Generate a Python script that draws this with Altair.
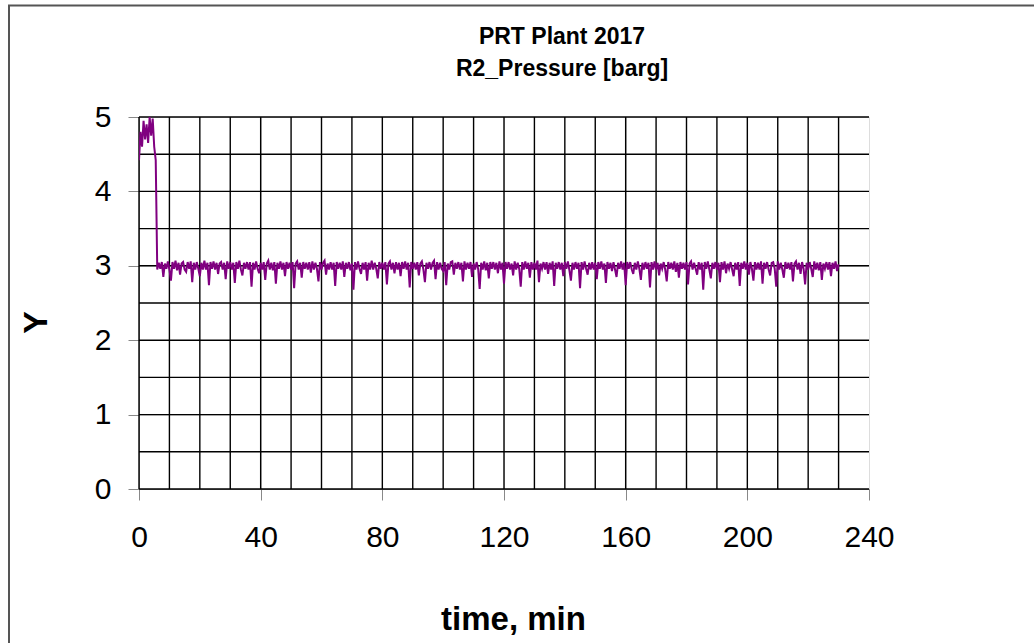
import altair as alt
import pandas as pd

# --- data ------------------------------------------------------------------
step_min = 0.5  # sampling interval of the logged series (minutes)

start_values = [4.42, 4.80, 4.60, 4.95, 4.70, 4.90, 4.65, 5.00, 4.75, 4.98, 4.60, 4.42]

steady_values = [
    2.95, 3.04, 2.96, 3.05, 2.85, 3.03, 2.96, 3.06, 2.95, 2.80, 3.05, 2.96, 3.07, 2.94, 3.04, 2.88, 3.03, 3.05, 2.95, 2.92,
    3.05, 2.96, 3.06, 2.78, 3.04, 2.95, 3.05, 2.96, 2.86, 3.04, 2.95, 3.07, 2.95, 3.04, 2.74, 3.05, 2.96, 3.06, 2.95, 3.04,
    2.89, 3.03, 3.05, 2.95, 3.04, 2.82, 3.06, 2.96, 3.05, 2.95, 3.04, 2.77, 3.05, 2.96, 3.07, 2.95, 2.87, 3.04, 2.96, 3.05,
    2.95, 3.05, 2.72, 3.04, 2.95, 3.06, 2.96, 2.90, 3.04, 2.95, 3.05, 2.81, 3.03, 3.07, 2.95, 3.04, 2.94, 3.05, 2.76, 3.04,
    2.96, 3.06, 2.95, 3.04, 2.86, 3.05, 2.96, 3.04, 2.95, 3.05, 2.70, 3.03, 3.06, 2.95, 3.04, 2.84, 3.05, 2.96, 3.04, 2.95,
    3.05, 2.91, 3.06, 2.95, 3.04, 2.96, 2.79, 3.05, 2.95, 3.04, 3.07, 2.88, 3.03, 2.95, 3.05, 2.95, 3.04, 2.73, 3.05, 2.96,
    3.04, 2.95, 3.06, 2.85, 3.04, 2.96, 3.05, 2.94, 3.03, 2.68, 3.05, 2.95, 3.06, 2.96, 2.89, 3.04, 2.95, 3.05, 2.80, 3.04,
    2.95, 3.07, 2.95, 3.04, 2.96, 2.83, 3.05, 2.96, 3.04, 2.95, 3.05, 2.75, 3.03, 3.06, 2.95, 3.04, 2.90, 3.05, 2.95, 3.04,
    2.86, 3.05, 2.96, 3.06, 2.95, 3.04, 2.71, 3.05, 2.96, 3.04, 2.95, 3.05, 2.87, 3.03, 3.06, 2.95, 2.78, 3.04, 2.96, 3.05,
    2.95, 3.04, 3.07, 2.82, 3.05, 2.95, 3.04, 2.96, 2.93, 3.05, 2.74, 3.03, 2.95, 3.05, 3.06, 2.88, 3.04, 2.96, 3.05, 2.95,
    3.04, 2.79, 3.06, 2.95, 3.04, 2.96, 3.05, 2.85, 3.03, 2.95, 3.05, 2.96, 2.69, 3.04, 2.95, 3.06, 2.94, 3.04, 2.83, 3.05,
    2.96, 3.05, 2.95, 3.04, 2.90, 3.06, 2.95, 3.04, 2.76, 3.05, 2.96, 3.05, 2.95, 3.03, 2.87, 3.06, 2.95, 3.04, 2.96, 2.72,
    3.05, 2.95, 3.06, 2.96, 3.04, 2.84, 3.05, 2.95, 3.04, 2.95, 3.07, 2.78, 3.03, 2.96, 3.05, 2.95, 3.05, 2.89, 3.04, 2.95,
    3.06, 2.73, 3.04, 2.96, 3.05, 2.95, 3.04, 2.86, 3.05, 2.96, 3.06, 2.94, 2.80, 3.04, 2.95, 3.05, 2.96, 3.04, 2.70, 3.05,
    2.95, 3.06, 2.96, 2.88, 3.04, 2.95, 3.05, 2.95, 3.04, 2.82, 3.05, 2.96, 3.06, 2.95, 3.03, 2.77, 3.05, 2.96, 3.04, 2.93,
    3.05, 2.95, 2.85, 3.04, 2.96, 3.06, 2.95, 3.04, 2.74, 3.05, 2.96, 3.05, 2.95, 2.89, 3.04, 2.95, 3.06, 2.96, 2.81, 3.04,
    2.95, 3.05, 2.96, 3.04, 2.71, 3.05, 2.95, 3.06, 2.95, 3.04, 2.87, 3.03, 2.96, 3.05, 2.95, 2.79, 3.05, 2.96, 3.04, 2.95,
    3.06, 2.92, 3.04, 2.84, 3.05, 2.96, 3.04, 2.95, 3.05, 2.75, 3.03, 3.06, 2.95, 3.04, 2.96, 2.88, 3.05, 2.95, 3.04, 2.68,
    3.05, 2.96, 3.06, 2.95, 2.83, 3.04, 2.96, 3.05, 2.95, 3.04, 2.78, 3.05, 2.95, 3.06, 2.90, 3.03, 2.96, 3.05, 2.95, 2.86,
    3.04, 2.95, 3.05, 2.73, 3.04, 2.96, 3.06, 2.95, 3.04, 2.88, 3.05, 2.96, 2.80, 3.05, 2.95, 3.04, 2.95, 3.06, 2.76, 3.04,
    2.96, 3.05, 2.95, 2.87, 3.04, 3.05, 2.96, 2.72, 3.06, 2.95, 3.04, 2.95, 2.84, 3.05, 2.96, 3.04, 2.95, 3.05, 2.79, 3.03,
    3.06, 2.95, 3.04, 2.89, 3.05, 2.96, 2.75, 3.04, 2.95, 3.05, 2.96, 2.85, 3.06, 2.95, 3.04, 2.94, 3.05, 2.81, 3.03, 2.96,
    3.05, 2.95, 3.05, 2.86, 3.04, 2.96, 3.06, 2.93, 3.02,
]

pressure = start_values + steady_values
time_min = [i * step_min for i in range(len(pressure))]

x_ticks = [0, 40, 80, 120, 160, 200, 240]
y_ticks = [0, 1, 2, 3, 4, 5]
x_grid = list(range(0, 240, 10))
y_grid = [0, 0.5, 1, 1.5, 2, 2.5, 3, 3.5, 4, 4.5, 5]

df = pd.DataFrame({"t": time_min, "p": pressure})
gx = pd.DataFrame({"t": x_grid})
gy = pd.DataFrame({"p": y_grid})
one = pd.DataFrame({"k": [0]})

W, H = 730, 372
FONT = "Liberation Sans"

xscale = alt.Scale(domain=[0, 240], nice=False, zero=False)
yscale = alt.Scale(domain=[0, 5], nice=False, zero=False)

x_axis = alt.Axis(
    values=x_ticks,
    title="time, min",
    titleFontSize=33,
    titleFont=FONT,
    titleFontWeight="bold",
    titleColor="black",
    titleX=374,
    titleY=140,
    titleBaseline="alphabetic",
    titleAnchor="start",
    titleAlign="center",
    labelFontSize=30,
    labelPadding=22,
    tickSize=11,
    labelFlush=False,
    labelOverlap=False,
)
y_axis = alt.Axis(
    values=y_ticks,
    title="Y",
    titleFontSize=34,
    titleFont=FONT,
    titleFontWeight="bold",
    titleColor="black",
    titleX=-103,
    titleY=205,
    titleAngle=270,
    titleAlign="center",
    titleBaseline="middle",
    labelFontSize=30,
    labelPadding=17,
    tickSize=11,
    labelFlush=False,
    labelOverlap=False,
)

vgrid = alt.Chart(gx).mark_rule(color="black", strokeWidth=1.4).encode(
    x=alt.X("t:Q", scale=xscale, axis=x_axis)
)
hgrid = alt.Chart(gy).mark_rule(color="black", strokeWidth=1.4).encode(
    y=alt.Y("p:Q", scale=yscale, axis=y_axis)
)

line = alt.Chart(df).mark_line(color="#800080", strokeWidth=2.0, clip=True).encode(
    x=alt.X("t:Q", scale=xscale, axis=x_axis),
    y=alt.Y("p:Q", scale=yscale, axis=y_axis),
)

frame_v = alt.Chart(one).mark_rule(color="#555555", strokeWidth=2).encode(
    x=alt.value(-130), y=alt.value(-111.5), y2=alt.value(H + 200)
)
frame_h = alt.Chart(one).mark_rule(color="#555555", strokeWidth=2).encode(
    x=alt.value(-131), x2=alt.value(W + 200), y=alt.value(-111.5)
)

chart = (
    alt.layer(vgrid, hgrid, line, frame_v, frame_h)
    .properties(
        width=W,
        height=H,
        autosize=alt.AutoSizeParams(type="none"),
        padding={"left": 139, "top": 117, "right": 165, "bottom": 154},
        title=alt.TitleParams(
            text=["PRT Plant 2017", "R2_Pressure [barg]"],
            font=FONT,
            fontSize=23,
            fontWeight="bold",
            color="black",
            anchor="middle",
            dx=58,
            dy=76,
            offset=0,
            lineHeight=32,
        ),
    )
    .configure_view(stroke="#999999", strokeWidth=1.5)
    .configure_axis(
        labelFont=FONT,
        labelColor="black",
        tickColor="black",
        domainColor="black",
        domainWidth=1.4,
        tickWidth=1.4,
        grid=False,
    )
    .configure(background="white")
)

chart.save("out.html", embed_options={"renderer": "svg", "actions": False})
